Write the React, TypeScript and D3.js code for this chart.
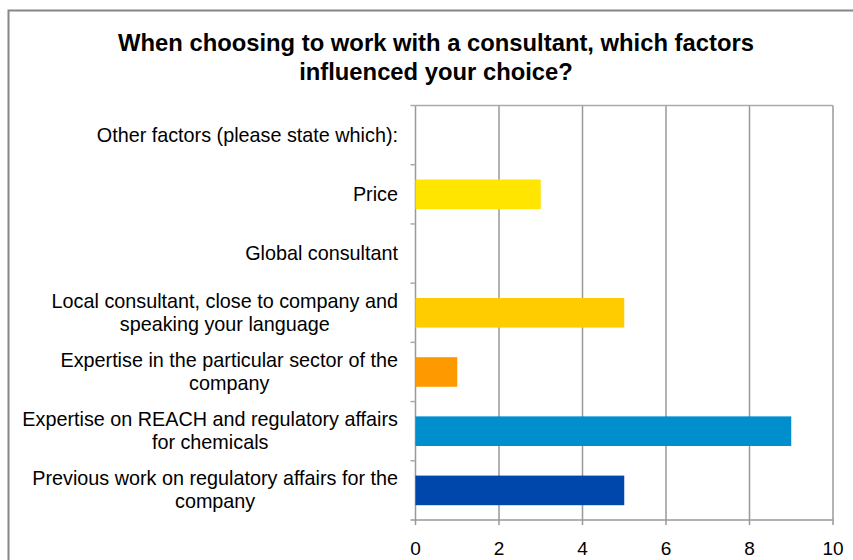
import { useEffect, useRef } from "react";
import * as d3 from "d3";

const categories = [
  ["Other factors (please state which):"],
  ["Price"],
  ["Global consultant"],
  ["Local consultant, close to company and", "speaking your language"],
  ["Expertise in the particular sector of the", "company"],
  ["Expertise on REACH and regulatory affairs", "for chemicals"],
  ["Previous work on regulatory affairs for the", "company"],
];
const values = [0, 3, 0, 5, 1, 9, 5];
const barColors = ["#FFE500", "#FFE500", "#FFE500", "#FFCC00", "#FF9900", "#008ECC", "#0047AB"];
const ticks = [0, 2, 4, 6, 8, 10];
const titleLines = [
  "When choosing to work with a consultant, which factors",
  "influenced your choice?",
];

const FONT = "Arial, 'Liberation Sans', sans-serif";

export default function App() {
  const ref = useRef<SVGSVGElement>(null);

  useEffect(() => {
    const svg = d3.select(ref.current);
    svg.selectAll("*").remove();

    const left = 415.5;
    const right = 833;
    const top = 105.5;
    const bottom = 520;

    // chart frame
    svg
      .append("rect")
      .attr("x", 8.5)
      .attr("y", 10.5)
      .attr("width", 900)
      .attr("height", 700)
      .attr("fill", "white")
      .attr("stroke", "#868686")
      .attr("stroke-width", 2);

    svg
      .selectAll("text.title")
      .data(titleLines)
      .enter()
      .append("text")
      .attr("class", "title")
      .attr("x", 436)
      .attr("y", (_, i) => 51 + i * 29)
      .attr("text-anchor", "middle")
      .style("font-family", FONT)
      .style("font-weight", "bold")
      .style("font-size", "23.8px")
      .text((d) => d);

    const x = d3.scaleLinear().domain([0, 10]).range([left, right]);
    const y = d3
      .scaleBand()
      .domain(categories.map((_, i) => String(i)))
      .range([top, bottom])
      .paddingInner(0.5)
      .paddingOuter(0.25);
    const yb = d3
      .scaleBand()
      .domain(categories.map((_, i) => String(i)))
      .range([top, bottom]);

    // gridlines
    svg
      .selectAll("line.grid")
      .data(ticks)
      .enter()
      .append("line")
      .attr("x1", (d) => x(d))
      .attr("x2", (d) => x(d))
      .attr("y1", top)
      .attr("y2", bottom + 5)
      .attr("stroke", "#999")
      .attr("stroke-width", 1.5);

    svg
      .append("line")
      .attr("x1", left)
      .attr("x2", right)
      .attr("y1", top)
      .attr("y2", top)
      .attr("stroke", "#aaa")
      .attr("stroke-width", 1.5);
    svg
      .append("line")
      .attr("x1", left - 5)
      .attr("x2", right)
      .attr("y1", bottom)
      .attr("y2", bottom)
      .attr("stroke", "#999")
      .attr("stroke-width", 1.5);

    // category ticks
    svg
      .selectAll("line.ytick")
      .data(categories.map((_, i) => String(i)))
      .enter()
      .append("line")
      .attr("x1", left - 5)
      .attr("x2", left)
      .attr("y1", (d) => yb(d)!)
      .attr("y2", (d) => yb(d)!)
      .attr("stroke", "#aaa")
      .attr("stroke-width", 1.5);

    // bars
    svg
      .selectAll("rect.bar")
      .data(values)
      .enter()
      .append("rect")
      .attr("x", x(0))
      .attr("y", (_, i) => y(String(i))!)
      .attr("width", (d) => x(d) - x(0))
      .attr("height", y.bandwidth())
      .attr("fill", (_, i) => barColors[i]);

    // x tick labels
    svg
      .selectAll("text.xtick")
      .data(ticks)
      .enter()
      .append("text")
      .attr("x", (d) => x(d))
      .attr("y", 555)
      .attr("text-anchor", "middle")
      .style("font-family", FONT)
      .style("font-size", "19px")
      .text((d) => d);

    // category labels: block right-aligned, lines centred inside it
    categories.forEach((lines, i) => {
      const g = svg.append("g");
      const cy = yb(String(i))! + yb.bandwidth() / 2;
      const lh = 23;
      const texts = lines.map((l, j) =>
        g
          .append("text")
          .attr("y", cy + (j - (lines.length - 1) / 2) * lh + 6.5)
          .attr("text-anchor", "middle")
          .style("font-family", FONT)
          .style("font-size", "19.8px")
          .text(l)
      );
      const w = d3.max(texts, (t) => (t.node() as SVGTextElement).getComputedTextLength()) || 0;
      texts.forEach((t) => t.attr("x", 398 - w / 2));
    });
  }, []);

  return (
    <svg
      ref={ref}
      width={853}
      height={560}
      style={{ position: "absolute", left: 0, top: 0 }}
    />
  );
}
